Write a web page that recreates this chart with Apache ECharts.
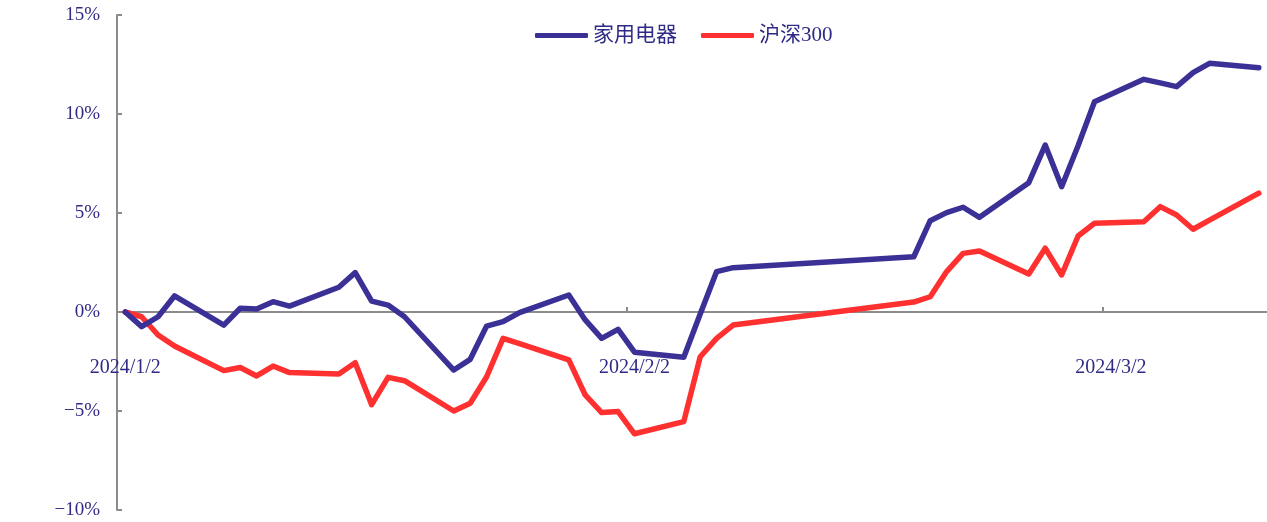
<!DOCTYPE html>
<html>
<head>
<meta charset="utf-8">
<script src="https://cdn.jsdelivr.net/npm/echarts@6/dist/echarts.min.js"></script>
<style>
html,body{margin:0;padding:0;background:#fff;}
#c{width:1267px;height:522px;}
</style>
</head>
<body>
<div id="c"></div>
<script>
const dates = ['2024-01-02','2024-01-03','2024-01-04','2024-01-05','2024-01-08','2024-01-09','2024-01-10','2024-01-11','2024-01-12',
'2024-01-15','2024-01-16','2024-01-17','2024-01-18','2024-01-19','2024-01-22','2024-01-23','2024-01-24','2024-01-25','2024-01-26',
'2024-01-29','2024-01-30','2024-01-31','2024-02-01','2024-02-02','2024-02-05','2024-02-06','2024-02-07','2024-02-08',
'2024-02-19','2024-02-20','2024-02-21','2024-02-22','2024-02-23','2024-02-26','2024-02-27','2024-02-28','2024-02-29',
'2024-03-01','2024-03-04','2024-03-05','2024-03-06','2024-03-07','2024-03-08','2024-03-11'];
const homeAppliance = [0,-0.74,-0.24,0.81,-0.66,0.19,0.15,0.52,0.30,
1.25,1.99,0.55,0.35,-0.24,-2.93,-2.39,-0.71,-0.49,-0.03,
0.86,-0.40,-1.33,-0.88,-2.03,-2.29,-0.10,2.04,2.24,
2.79,4.61,5.02,5.29,4.78,6.53,8.43,6.33,8.40,
10.62,11.75,11.57,11.38,12.09,12.56,12.34];
const hs300 = [0,-0.24,-1.16,-1.72,-2.96,-2.80,-3.23,-2.73,-3.06,
-3.13,-2.56,-4.68,-3.30,-3.47,-5.00,-4.61,-3.27,-1.33,-1.60,
-2.42,-4.19,-5.08,-5.03,-6.15,-5.54,-2.26,-1.33,-0.66,
0.50,0.77,2.04,2.96,3.08,1.92,3.22,1.87,3.84,
4.48,4.56,5.32,4.90,4.18,4.64,6.00];
const seriesNames = ['家用电器','沪深300'];
const xTickLabels = ['2024/1/2','2024/2/2','2024/3/2'];
const yTicks = [-10,-5,0,5,10,15];

const DAY = 24*3600*1000;
function ts(s){
  const p = s.split(/[-\/]/).map(Number);
  return Date.UTC(p[0], p[1]-1, p[2]);
}
const t0 = ts(dates[0]);
function dayIdx(s){ return Math.round((ts(s)-t0)/DAY); }
const labelVals = xTickLabels.map(dayIdx);
const labelMap = {};
labelVals.forEach((v,i)=>{ labelMap[v] = xTickLabels[i]; });
const tickVals = labelVals.map(v => v - 0.5);

const chart = echarts.init(document.getElementById('c'), null, {renderer:'canvas'});
const textColor = '#2f2a85';
const font = "'Liberation Serif','Noto Sans CJK SC',serif";
chart.setOption({
  animation:false,
  backgroundColor:'#fff',
  grid:{left:117,right:0,top:15,bottom:12,containLabel:false,outerBoundsMode:'none'},
  legend:{
    left:530, top:20,
    itemWidth:53, itemHeight:5, itemGap:24,
    icon:'roundRect',
    textStyle:{color:textColor,fontSize:21,fontFamily:font},
    data:seriesNames
  },
  xAxis:{
    type:'value',
    min: -0.5,
    max: dayIdx(dates[dates.length-1]) + 0.5,
    axisLine:{onZero:true,lineStyle:{color:'#8c8c8c',width:2}},
    axisTick:{show:true,inside:true,length:5,customValues:tickVals,lineStyle:{color:'#8c8c8c',width:2}},
    axisLabel:{
      customValues:labelVals,
      inside:true,
      margin:132,
      color:textColor,fontSize:20,fontFamily:font,
      formatter:function(v){ return labelMap[Math.round(v)] || ''; }
    },
    splitLine:{show:false}
  },
  yAxis:{
    type:'value',
    min:yTicks[0], max:yTicks[yTicks.length-1], interval:5,
    axisLine:{show:true,onZero:false,lineStyle:{color:'#8c8c8c',width:2}},
    axisTick:{show:true,inside:true,length:5,lineStyle:{color:'#8c8c8c',width:2}},
    axisLabel:{
      margin:17,color:textColor,fontSize:19,fontFamily:font,
      formatter:function(v){ return (v<0?'\u2212'+Math.abs(v):v)+'%'; }
    },
    splitLine:{show:false}
  },
  series:[
    {name:seriesNames[0],type:'line',showSymbol:false,symbol:'none',
     data:dates.map((d,i)=>[dayIdx(d),homeAppliance[i]]),
     lineStyle:{color:'#3b3096',width:5.5,cap:'round',join:'round'},itemStyle:{color:'#3b3096'},z:3},
    {name:seriesNames[1],type:'line',showSymbol:false,symbol:'none',
     data:dates.map((d,i)=>[dayIdx(d),hs300[i]]),
     lineStyle:{color:'#ff3030',width:5.5,cap:'round',join:'round'},itemStyle:{color:'#ff3030'},z:2}
  ]
});
</script>
</body>
</html>
